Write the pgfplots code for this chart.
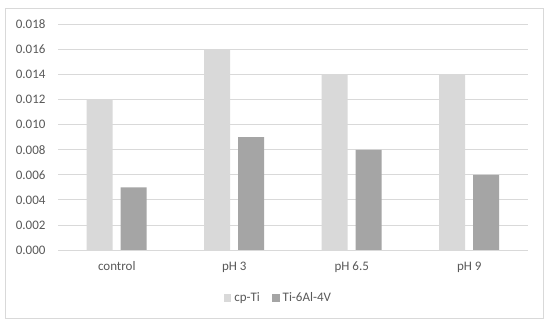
\documentclass[border=0pt]{standalone}
\usepackage{fontspec}
\setmainfont{Carlito}
\usepackage{pgfplots}
\pgfplotsset{compat=1.18}
\definecolor{lightbar}{HTML}{D9D9D9}
\definecolor{darkbar}{HTML}{A5A5A5}
\definecolor{txtc}{HTML}{595959}
\definecolor{gridc}{HTML}{D9D9D9}
\begin{document}
\begin{tikzpicture}[x=1pt,y=1pt]
\useasboundingbox (0,0) rectangle (550,326);
\fill[white] (0,0) rectangle (550,326);
\draw[gridc, line width=0.8pt] (5,8) rectangle (543,318);
\begin{axis}[
  at={(58pt,76pt)}, anchor=south west,
  scale only axis, width=470pt, height=225.5pt,
  ybar, bar width=26pt,
  xmin=-0.5, xmax=3.5, ymin=0, ymax=0.018,
  ytick={0,0.002,...,0.018},
  xtick={0,1,2,3}, xticklabels={control,pH 3,pH 6.5,pH 9},
  scaled y ticks=false,
  /pgf/number format/assume math mode=true,
  yticklabel style={/pgf/number format/fixed,/pgf/number format/precision=3,/pgf/number format/fixed zerofill},
  ymajorgrids, grid style={gridc, line width=0.8pt},
  axis x line*=bottom, axis y line*=left,
  x axis line style={gridc, line width=0.8pt, -},
  y axis line style={draw=none},
  tick style={draw=none},
  major tick length=0pt,
  tick label style={font=\fontsize{13}{15}\selectfont, text=txtc},
  yticklabel style={anchor=east, inner sep=0pt, xshift=-12.3pt},
  xticklabel style={anchor=base, yshift=-21pt},
  legend style={at={(0.467,-0.213)}, anchor=center, draw=none, legend columns=2,
    font=\fontsize{13}{15}\selectfont, text=txtc,
    nodes={inner sep=0pt},
    /tikz/every odd column/.append style={column sep=3pt},
    /tikz/every even column/.append style={column sep=12.5pt}},
  legend image code/.code={\fill[#1] (0pt,-3.7pt) rectangle (7.3pt,3.7pt);},
]
\addplot[fill=lightbar, draw=none, bar shift=-17pt] coordinates {(0,0.012) (1,0.016) (2,0.014) (3,0.014)};
\addplot[fill=darkbar, draw=none, bar shift=17pt] coordinates {(0,0.005) (1,0.009) (2,0.008) (3,0.006)};
\legend{cp-Ti, Ti-6Al-4V}
\end{axis}
\end{tikzpicture}
\end{document}
